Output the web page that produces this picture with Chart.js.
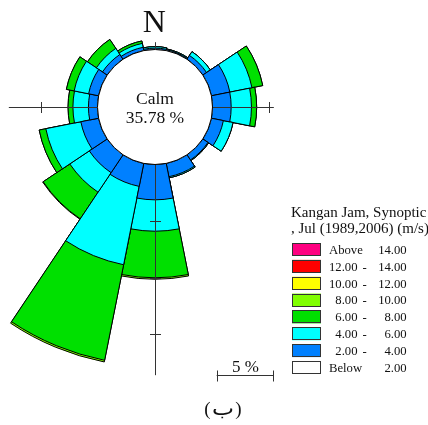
<!DOCTYPE html>
<html>
<head>
<meta charset="utf-8">
<script src="https://cdn.jsdelivr.net/npm/chart.js@4/dist/chart.umd.min.js"></script>
<style>
html,body{margin:0;padding:0;width:428px;height:425px;overflow:hidden;background:#fff;}
#wrap{position:absolute;left:-118px;top:-211px;width:546px;height:636px;}
canvas{display:block;}
</style>
</head>
<body>
<div id="wrap"><canvas id="c" width="546" height="636"></canvas></div>
<script>
// ---------------- DATA ----------------
const directions = ['N','NNE','NE','ENE','E','ESE','SE','SSE','S','SSW','SW','WSW','W','WNW','NW','NNW'];
// frequency (%) of each speed class per direction (N first, clockwise)
const below2     = [0,0,0,0,0,0,0,0,0,0,0,0,0,0,0,0];
const from2to4   = [0.12,0.08,0.40,1.66,1.65,1.08,0.55,1.20,3.12,2.07,1.90,1.60,0.80,0.90,0.50,0.30];
const from4to6   = [0.13,0.07,0.40,1.99,1.79,0.87,0.07,0.10,2.77,7.05,2.07,3.15,1.37,1.30,0.65,0.35];
const from6to8   = [0,0,0,0.97,0.46,0,0,0,4.11,8.60,2.83,0.60,0.43,0.70,0.95,0.22];
const from8to10  = [0,0,0,0,0,0,0,0,0.13,0.15,0.05,0,0,0,0,0];
const from10to12 = [0,0,0,0,0,0,0,0,0,0,0,0,0,0,0,0];
const from12to14 = [0,0,0,0,0,0,0,0,0,0,0,0,0,0,0,0];
const above14    = [0,0,0,0,0,0,0,0,0,0,0,0,0,0,0,0];
const calmPercent = 35.78;
const classNames = ['Below 2.00','2.00 - 4.00','4.00 - 6.00','6.00 - 8.00','8.00 - 10.00','10.00 - 12.00','12.00 - 14.00','Above 14.00'];
const legendFrom = ['Above','12.00','10.00','8.00','6.00','4.00','2.00','Below'];
const legendTo   = ['14.00','14.00','12.00','10.00','8.00','6.00','4.00','2.00'];
const titleLines = ['Kangan Jam, Synoptic', ', Jul (1989,2006) (m/s)'];
const axisReach = {N:0.69, E:5.37, S:18.55, W:7.87}; // % extent of the compass axes
const axisTickStep = 5;
const scaleBarValue = 5;
const northLabel = 'N';
const captionLetter = 'ب';

// ---------------- STYLE ----------------
const classColors = ['#FFFFFF','#0080FF','#00FFFF','#00E000','#80FF00','#FFFF00','#FF0000','#FF0080'];
const legendColors = ['#FF0080','#FF0000','#FFFF00','#80FF00','#00E000','#00FFFF','#0080FF','#FFFFFF'];
const OFFX = 118, OFFY = 211; // page -> canvas offset
const SERIF = "'Liberation Serif', 'Times New Roman', serif";

// ---------------- BUILD ----------------
const classValues = [below2, from2to4, from4to6, from6to8, from8to10, from10to12, from12to14, above14];
const datasets = [];
let cum = directions.map(() => 0);
classValues.forEach((vals, k) => {
  cum = cum.map((c, i) => c + vals[i]);
  const nonzero = vals.some(v => v > 0);
  if (k === 0 || nonzero) {
    datasets.push({
      label: classNames[k],
      data: cum.slice(),
      backgroundColor: classColors[k],
      borderColor: '#000',
      borderWidth: 1
    });
  }
});

const deco = {
  id: 'deco',
  afterDatasetsDraw(chart) {
    const ctx = chart.ctx, s = chart.scales.r;
    const cx = s.xCenter, cy = s.yCenter;
    const R = v => s.getDistanceFromCenterForValue(v);
    const r0 = R(0);
    ctx.save();
    // calm circle
    ctx.beginPath();
    ctx.arc(cx, cy, r0, 0, Math.PI * 2);
    ctx.fillStyle = '#fff';
    ctx.fill();
    ctx.lineWidth = 1;
    ctx.strokeStyle = '#000';
    ctx.stroke();
    // compass axes
    ctx.strokeStyle = '#333';
    ctx.lineWidth = 1;
    const dirs = [[0,-1,axisReach.N],[1,0,axisReach.E],[0,1,axisReach.S],[-1,0,axisReach.W]];
    const X = cx + 0.5, Y = cy + 0.5;
    for (const [dx, dy, reach] of dirs) {
      const a = r0, b = R(reach);
      ctx.beginPath();
      ctx.moveTo(X + dx * a, Y + dy * a);
      ctx.lineTo(X + dx * b, Y + dy * b);
      ctx.stroke();
      for (let t = axisTickStep; t <= reach; t += axisTickStep) {
        const r = Math.round(R(t));
        ctx.beginPath();
        if (dx === 0) {
          ctx.moveTo(X - 5.5, cy + dy * r + 0.5);
          ctx.lineTo(X + 5.5, cy + dy * r + 0.5);
        } else {
          ctx.moveTo(cx + dx * r + 0.5, Y - 5.5);
          ctx.lineTo(cx + dx * r + 0.5, Y + 5.5);
        }
        ctx.stroke();
      }
    }
    // texts
    ctx.fillStyle = '#111';
    ctx.textAlign = 'center';
    ctx.textBaseline = 'alphabetic';
    ctx.font = '32px ' + SERIF;
    ctx.fillText(northLabel, cx - 0.8, cy - 75.5);
    ctx.font = '17.5px ' + SERIF;
    ctx.fillText('Calm', cx, cy - 2.7);
    ctx.fillText(calmPercent.toFixed(2) + ' %', cx, cy + 15.7);

    // scale bar
    const barL = 216.7 + OFFX, barY = 375 + OFFY + 0.5;
    const barLen = R(scaleBarValue) - R(0);
    ctx.strokeStyle = '#333';
    ctx.beginPath();
    ctx.moveTo(barL, barY); ctx.lineTo(barL + barLen, barY);
    ctx.moveTo(Math.round(barL) + 0.5, barY - 5); ctx.lineTo(Math.round(barL) + 0.5, barY + 6);
    ctx.moveTo(Math.round(barL + barLen) + 0.5, barY - 5); ctx.lineTo(Math.round(barL + barLen) + 0.5, barY + 6);
    ctx.stroke();
    ctx.font = '17px ' + SERIF;
    ctx.fillText(scaleBarValue + ' %', barL + barLen / 2 + 0.5, 371.7 + OFFY);

    // legend
    ctx.textAlign = 'left';
    ctx.font = '15px ' + SERIF;
    ctx.fillText(titleLines[0], 291 + OFFX, 216.5 + OFFY);
    ctx.fillText(titleLines[1], 291 + OFFX, 233 + OFFY);
    ctx.font = '12.7px ' + SERIF;
    for (let i = 0; i < legendColors.length; i++) {
      const top = 243 + i * 16.85 + OFFY;
      ctx.fillStyle = legendColors[i];
      ctx.fillRect(292 + OFFX, top, 29, 13);
      ctx.strokeStyle = '#333';
      ctx.strokeRect(292.5 + OFFX, Math.round(top) + 0.5, 28, 12);
      ctx.fillStyle = '#111';
      const base = top + 6.5 + 4.4;
      const from = legendFrom[i];
      if (from === 'Above' || from === 'Below') {
        ctx.textAlign = 'left';
        ctx.fillText(from, 329 + OFFX, base);
      } else {
        ctx.textAlign = 'right';
        ctx.fillText(from, 357.5 + OFFX, base);
        ctx.textAlign = 'center';
        ctx.fillText('-', 364.5 + OFFX, base);
      }
      ctx.textAlign = 'right';
      ctx.fillText(legendTo[i], 406.7 + OFFX, base);
    }
    // caption "(ب)"
    ctx.fillStyle = '#111';
    const capBase = 414.5 + OFFY;
    ctx.font = '19px ' + SERIF;
    ctx.textAlign = 'right';
    ctx.fillText('(', 210.5 + OFFX, capBase);
    ctx.textAlign = 'left';
    ctx.fillText(')', 235.2 + OFFX, capBase);
    ctx.font = "20px 'DejaVu Sans', 'Noto Sans', sans-serif";
    ctx.textAlign = 'center';
    const w = ctx.measureText(captionLetter).width || 12;
    const sx = 22 / w;
    ctx.save();
    ctx.translate(223 + OFFX, capBase);
    ctx.scale(sx, 1);
    ctx.fillText(captionLetter, 0, 0);
    ctx.restore();
    ctx.restore();
  }
};

new Chart(document.getElementById('c'), {
  type: 'polarArea',
  data: { labels: directions, datasets: datasets },
  options: {
    responsive: false,
    animation: false,
    devicePixelRatio: 1,
    events: [],
    layout: { padding: 0 },
    plugins: { legend: { display: false }, tooltip: { enabled: false } },
    scales: {
      r: {
        min: -5.074,
        max: 19.02,
        startAngle: -11.25,
        ticks: { display: false },
        grid: { display: false },
        angleLines: { display: false },
        pointLabels: { display: false }
      }
    }
  },
  plugins: [deco]
});
</script>
</body>
</html>
